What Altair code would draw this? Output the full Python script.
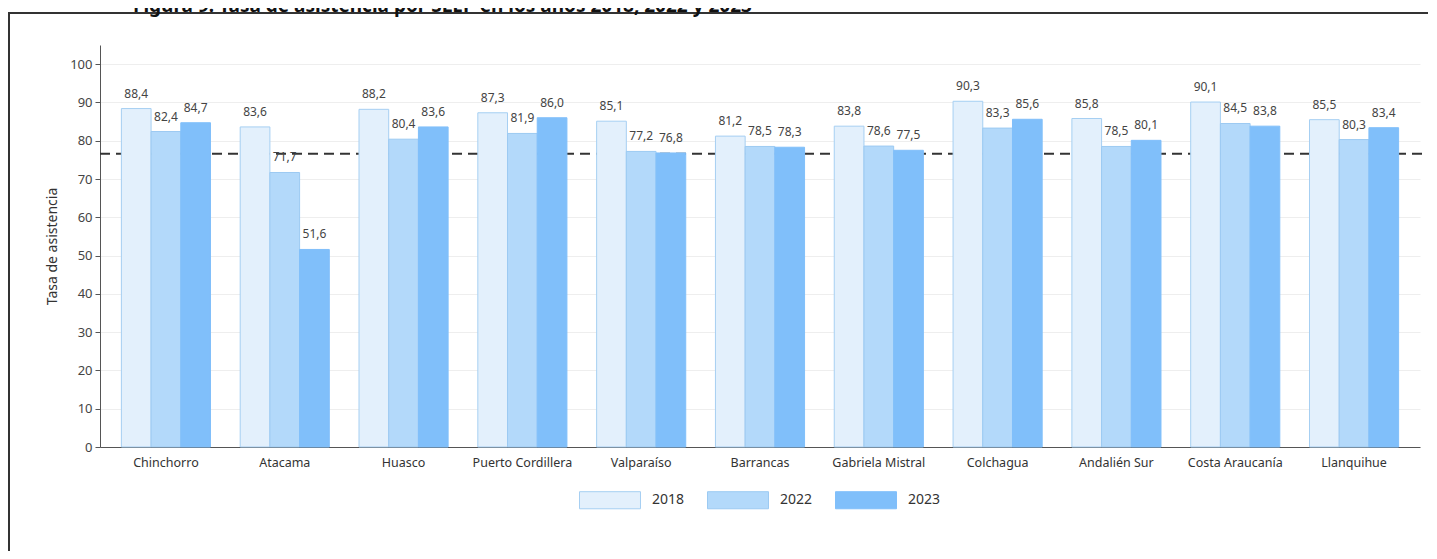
import altair as alt
import pandas as pd

cats = ["Chinchorro", "Atacama", "Huasco", "Puerto Cordillera", "Valparaíso", "Barrancas",
        "Gabriela Mistral", "Colchagua", "Andalién Sur", "Costa Araucanía", "Llanquihue"]
years = ["2018", "2022", "2023"]
v2018 = [88.4, 83.6, 88.2, 87.3, 85.1, 81.2, 83.8, 90.3, 85.8, 90.1, 85.5]
v2022 = [82.4, 71.7, 80.4, 81.9, 77.2, 78.5, 78.6, 83.3, 78.5, 84.5, 80.3]
v2023 = [84.7, 51.6, 83.6, 86.0, 76.8, 78.3, 77.5, 85.6, 80.1, 83.8, 83.4]
ref_value = [76.6]
title_text = "Figura 9: Tasa de asistencia por SLEP en los años 2018, 2022 y 2023"

fills = ["#E3F0FC", "#B3D9FA", "#80BFFA"]
strokes = ["#A6CFF2", "#9CCAF2", "#80BFFA"]

rows = []
for series, y in zip([v2018, v2022, v2023], years):
    for c, v in zip(cats, series):
        rows.append({"slep": c, "anio": y, "valor": v, "label": f"{v:.1f}".replace(".", ",")})
df = pd.DataFrame(rows)
ref_df = pd.DataFrame({"ref": ref_value})

FONT = "Noto Sans"
W, H = 1320, 402

xenc = alt.X("slep:N", sort=cats, title=None,
             scale=alt.Scale(paddingInner=0.25, paddingOuter=0.18),
             axis=alt.Axis(labelAngle=0, ticks=False, domainColor="#555", labelColor="#333",
                           labelFontSize=12.5, labelPadding=9, labelFont=FONT, grid=False))
yscale = alt.Scale(domain=[0, 105], nice=False)
xoff = alt.XOffset("anio:N", sort=years, scale=alt.Scale(paddingInner=0, paddingOuter=0))

bars = alt.Chart(df).mark_bar(strokeWidth=1).encode(
    x=xenc,
    xOffset=xoff,
    y=alt.Y("valor:Q", scale=yscale, title="Tasa de asistencia",
            axis=alt.Axis(values=list(range(0, 101, 10)), tickSize=5, tickColor="#555",
                          domainColor="#555", labelColor="#444", labelFontSize=13,
                          labelFont=FONT, titleFont=FONT, titleFontSize=14,
                          titleFontWeight="normal", titleColor="#333", titlePadding=10,
                          gridColor="#EEEEEE", labelPadding=3)),
    color=alt.Color("anio:N", sort=years, scale=alt.Scale(domain=years, range=fills),
                    legend=alt.Legend(title=None, orient="none", direction="horizontal",
                                      legendX=494, legendY=439,
                                      symbolType="M-2,-0.56 H2 V0.56 H-2 Z", symbolSize=930,
                                      symbolStrokeColor="#A6CFF2", symbolStrokeWidth=1,
                                      labelFontSize=14, labelFont=FONT, labelColor="#333",
                                      labelOffset=26, columnPadding=20)),
    stroke=alt.Stroke("anio:N", sort=years, scale=alt.Scale(domain=years, range=strokes), legend=None),
)

labels = alt.Chart(df).mark_text(dy=-8, baseline="bottom", fontSize=12, font=FONT, color="#444").encode(
    x=alt.X("slep:N", sort=cats),
    xOffset=xoff,
    y=alt.Y("valor:Q", scale=yscale),
    text="label:N",
)

rule = alt.Chart(ref_df).mark_rule(strokeDash=[10, 6], color="#333", strokeWidth=2).encode(
    y=alt.Y("ref:Q", scale=yscale),
    x=alt.value(0), x2=alt.value(W + 3),
)

frame_top = alt.Chart(ref_df).mark_rule(color="#333", strokeWidth=2).encode(
    x=alt.value(-92), x2=alt.value(W + 40), y=alt.value(-32))
frame_left = alt.Chart(ref_df).mark_rule(color="#333", strokeWidth=2).encode(
    x=alt.value(-91), y=alt.value(-32), y2=alt.value(H + 120))

title = alt.Chart(ref_df).mark_text(align="left", baseline="alphabetic", fontSize=19,
                                     font=FONT, fontWeight="bold", color="#111").encode(
    x=alt.value(33), y=alt.value(-33), text=alt.value(title_text))

chart = alt.layer(frame_top, frame_left, title, rule, bars, labels).properties(
    width=W, height=H,
    autosize=alt.AutoSizeParams(type="none"),
    padding={"left": 92, "top": 37, "right": 8, "bottom": 104},
).configure_view(stroke=None).configure_axis(grid=True)

chart.save("out.html", embed_options={"renderer": "svg", "actions": False})
